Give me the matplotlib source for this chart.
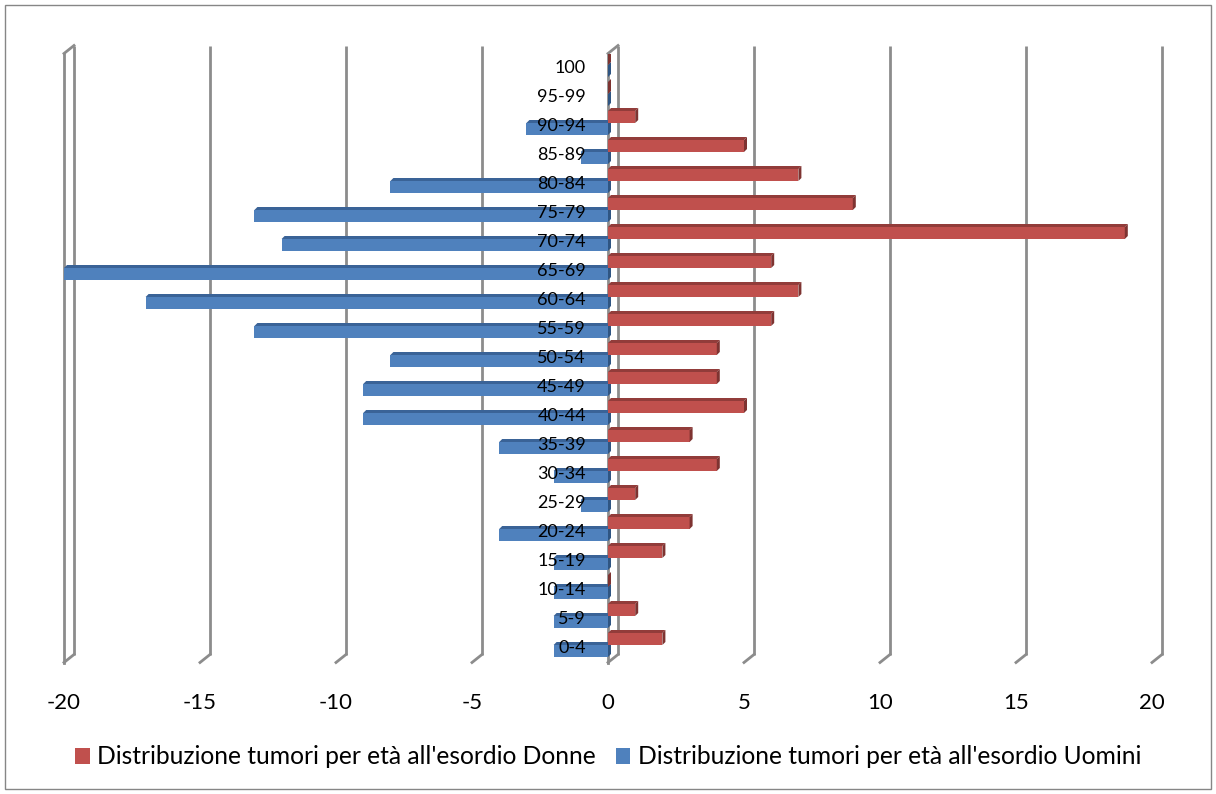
import matplotlib
matplotlib.use('Agg')
import matplotlib.pyplot as plt
from matplotlib.patches import Polygon, Rectangle, Patch
import matplotlib.transforms as mtransforms

categories = ['0-4', '5-9', '10-14', '15-19', '20-24', '25-29', '30-34', '35-39',
              '40-44', '45-49', '50-54', '55-59', '60-64', '65-69', '70-74',
              '75-79', '80-84', '85-89', '90-94', '95-99', '100']
donne = [2, 1, 0, 2, 3, 1, 4, 3, 5, 4, 4, 6, 7, 6, 19, 9, 7, 5, 1, 0, 0]
uomini = [-2, -2, -2, -2, -4, -1, -2, -4, -9, -9, -8, -13, -17, -20, -12, -13,
          -8, -1, -3, 0, 0]
xticks = [-20, -15, -10, -5, 0, 5, 10, 15, 20]
label_donne = "Distribuzione tumori per età all'esordio Donne"
label_uomini = "Distribuzione tumori per età all'esordio Uomini"

plt.rcParams['font.family'] = ['Lato', 'DejaVu Sans']

W, H, DPI = 1216, 794, 100
fig = plt.figure(figsize=(W / DPI, H / DPI), dpi=DPI)
ax_l, ax_r = 64 / W, 1152 / W
ax_b, ax_t = 1 - 662.5 / H, 1 - 53.5 / H
ax = fig.add_axes([ax_l, ax_b, ax_r - ax_l, ax_t - ax_b])
xmin, xmax = -20, 20
ymin, ymax = -0.5, len(categories) - 0.5
ax.set_xlim(xmin, xmax)
ax.set_ylim(ymin, ymax)
for s in ax.spines.values():
    s.set_visible(False)
ax.set_yticks([])
ax.set_xticks(xticks)
ax.set_xticklabels([str(t) for t in xticks], fontsize=16)
ax.tick_params(axis='x', length=0, pad=22)

# pixel -> data conversion
ax_w_px = (ax_r - ax_l) * W
ax_h_px = (ax_t - ax_b) * H
px_x = (xmax - xmin) / ax_w_px
px_y = (ymax - ymin) / ax_h_px

grid_col = '#8c8c8c'
gdx, gdy = 10 * px_x, 8 * px_y
for t in xticks:
    # back line
    ax.plot([t + gdx, t + gdx], [ymin + gdy, ymax + gdy], color=grid_col, lw=2,
            clip_on=False, zorder=1, solid_capstyle='butt')
    # bottom stub
    ax.plot([t, t + gdx], [ymin, ymin + gdy], color=grid_col, lw=2,
            clip_on=False, zorder=1)
    if t in (-20, 0):
        ax.plot([t, t], [ymin, ymax], color=grid_col, lw=2, clip_on=False, zorder=1)
        ax.plot([t, t + gdx], [ymax, ymax + gdy], color=grid_col, lw=2,
                clip_on=False, zorder=1)

bdx, bdy = 3 * px_x, 3 * px_y
bh = 12 * px_y


def bar3d(v, yc, front, top, side, z):
    x0, x1 = min(0, v), max(0, v)
    yb, yt = yc - bh / 2, yc + bh / 2
    if x1 > x0:
        ax.add_patch(Rectangle((x0, yb), x1 - x0, bh, facecolor=front,
                               edgecolor='none', zorder=z))
        ax.add_patch(Polygon([(x0, yt), (x1, yt), (x1 + bdx, yt + bdy),
                              (x0 + bdx, yt + bdy)], closed=True,
                             facecolor=top, edgecolor='none', zorder=z))
    ax.add_patch(Polygon([(x1, yb), (x1 + bdx, yb + bdy), (x1 + bdx, yt + bdy),
                          (x1, yt)], closed=True, facecolor=side,
                         edgecolor='none', zorder=z))


red_off = 9 * px_y
blue_off = -3 * px_y
for i, (d, u) in enumerate(zip(donne, uomini)):
    bar3d(u, i + blue_off, '#4F81BD', '#3A6397', '#2F5582', 3)
    bar3d(d, i + red_off, '#C0504D', '#923C3A', '#7E3331', 3)

lab_tr = mtransforms.offset_copy(ax.transData, fig=fig, x=-22, y=0, units='dots')
for i, c in enumerate(categories):
    ax.text(0, i, c, transform=lab_tr, ha='right', va='center', fontsize=13,
            color='black', zorder=5)

handles = [Patch(facecolor='#C0504D', edgecolor='none', label=label_donne),
           Patch(facecolor='#4F81BD', edgecolor='none', label=label_uomini)]
fig.legend(handles=handles, loc='center', bbox_to_anchor=(0.5, 1 - 757 / H),
           ncol=2, frameon=False, fontsize=17.7, handlelength=0.6,
           handleheight=0.6, handletextpad=0.3, columnspacing=0.8)

fig.patches.append(Rectangle((5 / W, 5 / H), 1 - 10 / W, 1 - 10 / H,
                             transform=fig.transFigure, fill=False,
                             edgecolor='#868686', lw=1))

fig.savefig('out.png', dpi=DPI)
